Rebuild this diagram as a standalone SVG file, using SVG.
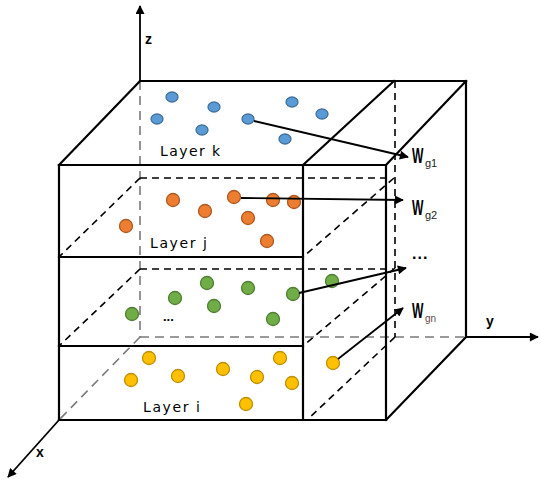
<svg xmlns="http://www.w3.org/2000/svg" width="540" height="483" viewBox="0 0 540 483">
<defs>
<style>
.s{stroke:#000;stroke-width:2.2;fill:none;stroke-linecap:square}
.d{stroke:#000;stroke-width:1.6;fill:none;stroke-dasharray:7 5}
.g{stroke:#7a7a7a;stroke-width:1.6;fill:none;stroke-dasharray:9 6}
.c{stroke:#000;stroke-width:1.8;fill:none}
.b{fill:#5B9BD5;stroke:#41719C;stroke-width:1.3}
.o{fill:#ED7D31;stroke:#AE5A21;stroke-width:1.3}
.gr{fill:#70AD47;stroke:#507E32;stroke-width:1.3}
.y{fill:#FFC000;stroke:#BF9000;stroke-width:1.3}
.lab{font-family:"DejaVu Sans",sans-serif;font-size:14px;fill:#000}
.ax{font-family:"Liberation Sans",Arial,sans-serif;font-size:14px;font-weight:bold;fill:#000}
.w{font-family:"Liberation Sans",Arial,sans-serif;font-size:22px;font-weight:bold;fill:#000}
.sub{font-family:"Liberation Sans",Arial,sans-serif;font-size:11px;fill:#222}
</style>
<marker id="ah" viewBox="0 0 10 10" refX="9" refY="5" markerWidth="11" markerHeight="9" markerUnits="userSpaceOnUse" orient="auto">
<path d="M0,0 L10,5 L0,10 Z" fill="#000"/>
</marker>
</defs>
<rect width="540" height="483" fill="#fff"/>

<g id="hidden-edges">
<line class="g" x1="140" y1="81" x2="140" y2="337"/>
<line class="g" x1="140" y1="337" x2="466" y2="337"/>
<line class="g" x1="140" y1="337" x2="59" y2="420"/>
<line class="d" x1="395" y1="81" x2="395" y2="337"/>
<line class="d" x1="140" y1="178" x2="392" y2="178"/>
<line class="d" x1="140" y1="178" x2="59" y2="257"/>
<line class="d" x1="394" y1="178" x2="303" y2="257"/>
<line class="d" x1="140" y1="269" x2="393" y2="269"/>
<line class="d" x1="140" y1="269" x2="59" y2="346"/>
<line class="d" x1="395" y1="268" x2="303" y2="346"/>
<line class="d" x1="395" y1="337" x2="307" y2="420"/>
</g>

<g id="box">
<line class="s" x1="140" y1="81" x2="466" y2="81"/>
<line class="s" x1="59" y1="165" x2="140" y2="81"/>
<line class="s" x1="386" y1="165" x2="466" y2="81"/>
<line class="s" x1="303" y1="165" x2="394" y2="81"/>
<line class="s" x1="59" y1="165" x2="386" y2="165"/>
<line class="s" x1="59" y1="165" x2="59" y2="420"/>
<line class="s" x1="59" y1="420" x2="386" y2="420"/>
<line class="s" x1="386" y1="165" x2="386" y2="420"/>
<line class="s" x1="303" y1="165" x2="303" y2="420"/>
<line class="s" x1="466" y1="81" x2="466" y2="337"/>
<line class="s" x1="386" y1="420" x2="466" y2="337"/>
<line class="s" x1="59" y1="257" x2="303" y2="257"/>
<line class="s" x1="59" y1="346" x2="303" y2="346"/>
</g>

<g id="axes">
<line class="c" x1="140" y1="81" x2="140" y2="6" marker-end="url(#ah)"/>
<line class="c" x1="466" y1="337" x2="538" y2="337" marker-end="url(#ah)"/>
<line class="c" x1="59" y1="420" x2="8" y2="477" marker-end="url(#ah)"/>
<text class="ax" x="145" y="44">z</text>
<text class="ax" x="486" y="326">y</text>
<text class="ax" x="36" y="457">x</text>
</g>

<g id="layer-k">
<ellipse class="b" cx="172" cy="97" rx="6" ry="5"/>
<ellipse class="b" cx="214" cy="107" rx="6" ry="5"/>
<ellipse class="b" cx="157" cy="119" rx="6" ry="5"/>
<ellipse class="b" cx="202" cy="130" rx="6" ry="5"/>
<ellipse class="b" cx="248" cy="119" rx="6" ry="5"/>
<ellipse class="b" cx="292" cy="102" rx="6" ry="5"/>
<ellipse class="b" cx="322" cy="114" rx="6" ry="5"/>
<ellipse class="b" cx="285" cy="139" rx="6" ry="5"/>
<text class="lab" x="160" y="156" textLength="60">Layer k</text>
</g>

<g id="layer-j">
<circle class="o" cx="173" cy="200" r="6.5"/>
<circle class="o" cx="205" cy="211" r="6.5"/>
<circle class="o" cx="234" cy="197" r="6.5"/>
<circle class="o" cx="248" cy="218" r="6.5"/>
<circle class="o" cx="273" cy="200" r="6.5"/>
<circle class="o" cx="294" cy="202" r="6.5"/>
<circle class="o" cx="126" cy="226" r="6.5"/>
<circle class="o" cx="267" cy="241" r="6.5"/>
<text class="lab" x="150" y="248" textLength="57">Layer j</text>
</g>

<g id="layer-mid">
<circle class="gr" cx="207" cy="283" r="6.5"/>
<circle class="gr" cx="248" cy="288" r="6.5"/>
<circle class="gr" cx="175" cy="298" r="6.5"/>
<circle class="gr" cx="214" cy="306" r="6.5"/>
<circle class="gr" cx="132" cy="314" r="6.5"/>
<circle class="gr" cx="332" cy="281" r="6.5"/>
<circle class="gr" cx="293" cy="294" r="6.5"/>
<circle class="gr" cx="273" cy="319" r="6.5"/>
<text x="163" y="321" style="font-family:'Liberation Sans',Arial,sans-serif;font-size:13px;font-weight:bold">...</text>
</g>

<g id="layer-i">
<circle class="y" cx="149" cy="358" r="6.5"/>
<circle class="y" cx="223" cy="369" r="6.5"/>
<circle class="y" cx="131" cy="380" r="6.5"/>
<circle class="y" cx="178" cy="376" r="6.5"/>
<circle class="y" cx="257" cy="377" r="6.5"/>
<circle class="y" cx="246" cy="404" r="6.5"/>
<circle class="y" cx="280" cy="358" r="6.5"/>
<circle class="y" cx="292" cy="383" r="6.5"/>
<circle class="y" cx="333" cy="363" r="6.5"/>
<text class="lab" x="143" y="412" textLength="57">Layer i</text>
</g>

<g id="connectors">
<line class="c" x1="254" y1="121" x2="408" y2="157" marker-end="url(#ah)"/>
<line class="c" x1="241" y1="198" x2="403" y2="200" marker-end="url(#ah)"/>
<line class="c" x1="299" y1="293" x2="406" y2="268" marker-end="url(#ah)"/>
<line class="c" x1="338" y1="359" x2="403" y2="308" marker-end="url(#ah)"/>
</g>

<g id="weights">
<text class="w" x="412" y="163" transform="translate(412 0) scale(0.55 1) translate(-412 0)">W</text>
<text class="sub" x="425" y="167">g1</text>
<text class="w" x="412" y="215" transform="translate(412 0) scale(0.55 1) translate(-412 0)">W</text>
<text class="sub" x="425" y="219">g2</text>
<text x="412" y="259" style="font-family:'Liberation Sans',Arial,sans-serif;font-size:16px;font-weight:bold;letter-spacing:1px">...</text>
<text class="w" x="412" y="318" transform="translate(412 0) scale(0.55 1) translate(-412 0)">W</text>
<text class="sub" x="425" y="322" style="fill:#6a4a4a;font-size:10px">gn</text>
</g>
</svg>
